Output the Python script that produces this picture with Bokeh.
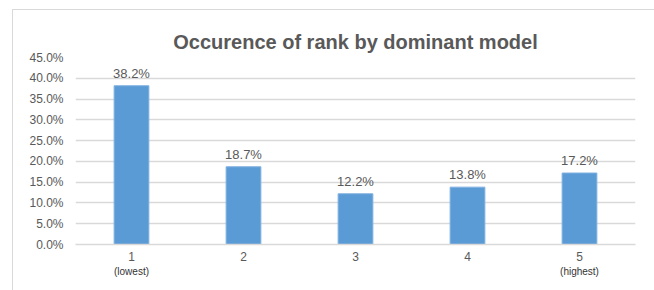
from bokeh.plotting import figure
from bokeh.models import ColumnDataSource, LabelSet, NumeralTickFormatter, FactorRange, Range1d, CategoricalAxis
from bokeh.core.properties import value
from bokeh.embed import file_html
from bokeh.resources import INLINE

ranks = ["1", "2", "3", "4", "5"]
shares = [0.382, 0.187, 0.122, 0.138, 0.172]
share_labels = ["38.2%", "18.7%", "12.2%", "13.8%", "17.2%"]
# second-line labels under ranks (blank entries must be distinct factors)
rank_notes = ["(lowest)", " ", "  ", "   ", "(highest)"]
y_ticks = [0.0, 0.05, 0.10, 0.15, 0.20, 0.25, 0.30, 0.35, 0.40, 0.45]

FONT = "Liberation Sans"
TXT = "#595959"

src = ColumnDataSource(dict(rank=ranks, share=shares, lab=share_labels))

p = figure(x_range=FactorRange(*ranks, range_padding=0), y_range=Range1d(0, 0.45),
           width=642, height=281, output_backend="svg", toolbar_location=None,
           min_border_left=62, min_border_right=20, min_border_top=47, min_border_bottom=47,
           title="Occurence of rank by dominant model")
p.margin = (9, 0, 0, 12)
p.styles = {"border-top": "1px solid #d9d9d9", "border-left": "1px solid #d9d9d9"}
p.extra_x_ranges = {"notes": FactorRange(*rank_notes, range_padding=0)}

p.title.text_font = FONT
p.title.text_font_size = "20px"
p.title.text_font_style = "bold"
p.title.text_color = TXT
p.title.align = "center"
p.title.standoff = 9

p.vbar(x="rank", top="share", width=0.31, source=src, fill_color="#5B9BD5", line_color="#7eb0e0")

p.add_layout(LabelSet(x="rank", y="share", text="lab", source=src, y_offset=5,
                      text_align="center", text_baseline="bottom", text_font=value(FONT),
                      text_font_size="13px", text_color=TXT))

p.outline_line_color = None
p.xgrid.grid_line_color = None
p.ygrid.grid_line_color = "#d9d9d9"
p.ygrid.grid_line_width = 1.5
p.yaxis.ticker = y_ticks
p.yaxis.formatter = NumeralTickFormatter(format="0.0%")
p.yaxis.axis_line_color = None
p.yaxis.major_tick_line_color = None
p.yaxis.minor_tick_line_color = None
p.xaxis.axis_line_color = "#d9d9d9"
p.xaxis.axis_line_width = 1.5
p.xaxis.major_tick_line_color = None
p.xaxis.minor_tick_line_color = None
for ax in (p.xaxis, p.yaxis):
    ax.major_label_text_font = FONT
    ax.major_label_text_font_size = "12px"
    ax.major_label_text_color = TXT
p.yaxis.major_label_standoff = 6
p.xaxis.major_label_standoff = 1

ax2 = CategoricalAxis(x_range_name="notes", axis_line_color=None, major_tick_line_color=None,
                      minor_tick_line_color=None, major_label_text_font=FONT,
                      major_label_text_font_size="10px", major_label_text_color="#333333",
                      major_label_standoff=-4)
p.add_layout(ax2, "below")

open("out.html", "w").write(file_html(p, INLINE))
